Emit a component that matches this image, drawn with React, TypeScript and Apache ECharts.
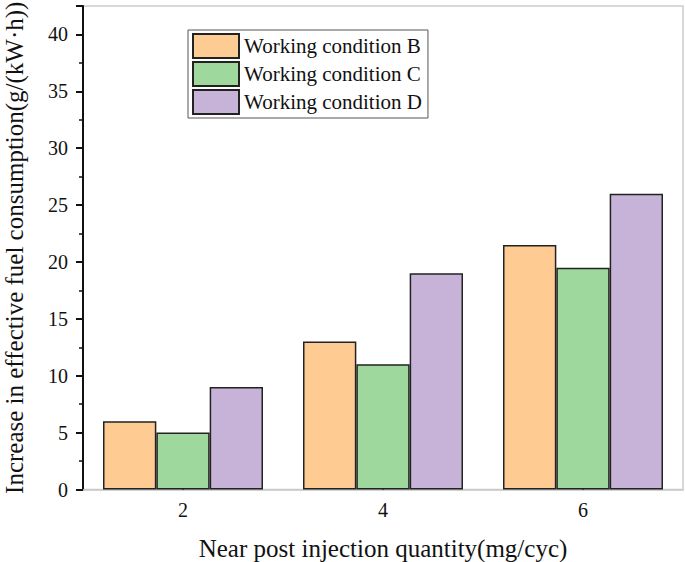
import React, { useEffect, useRef } from "react";
import * as echarts from "echarts";

const categories = ["2", "4", "6"];
const seriesNames = ["Working condition B", "Working condition C", "Working condition D"];
const valuesB = [6, 13, 21.5];
const valuesC = [5, 11, 19.5];
const valuesD = [9, 19, 26];
const colors = ["#FECC92", "#9FD89D", "#C6B3D7"];

export default function App() {
  const ref = useRef<HTMLDivElement>(null);
  useEffect(() => {
    if (!ref.current) return;
    const chart = echarts.init(ref.current, undefined, { renderer: "svg" });
    const font = "Liberation Serif";
    const data = [valuesB, valuesC, valuesD];
    chart.setOption({
      animation: false,
      textStyle: { fontFamily: font },
      grid: {
        left: 83,
        top: 6,
        width: 600,
        height: 483.5,
        show: true,
        borderColor: "#cccccc",
        borderWidth: 1.5,
        backgroundColor: "transparent",
        outerBoundsMode: "none",
        containLabel: false,
      },
      legend: {
        orient: "vertical",
        left: 188,
        top: 30,
        icon: "rect",
        itemWidth: 46,
        itemHeight: 24,
        itemGap: 2,
        padding: [3, 6, 3, 4],
        borderColor: "#555",
        borderWidth: 1,
        backgroundColor: "#fff",
        textStyle: { fontFamily: font, fontSize: 21, color: "#111" },
        data: seriesNames,
      },
      xAxis: {
        type: "category",
        data: categories,
        name: "Near post injection quantity(mg/cyc)",
        nameLocation: "middle",
        nameGap: 46,
        nameTextStyle: { fontFamily: font, fontSize: 25, color: "#111" },
        axisLine: { show: true, lineStyle: { color: "#c8c8c8", width: 1.5 } },
        axisTick: { show: true, inside: true, alignWithLabel: true, length: 8, lineStyle: { color: "#111", width: 2 } },
        axisLabel: { fontFamily: font, fontSize: 20, color: "#111", margin: 10 },
        splitLine: { show: false },
      },
      yAxis: {
        type: "value",
        min: 0,
        max: 42.5,
        interval: 5,
        name: "Increase in effective fuel consumption(g/(kW·h))",
        nameLocation: "middle",
        nameGap: 56,
        nameTextStyle: { fontFamily: font, fontSize: 25, color: "#111" },
        axisLine: { show: true, lineStyle: { color: "#111", width: 2 } },
        axisTick: { show: true, inside: false, length: 7, lineStyle: { color: "#111", width: 2 } },
        minorTick: { show: true, splitNumber: 2, length: 4, lineStyle: { color: "#111", width: 1.5 } },
        axisLabel: {
          fontFamily: font,
          fontSize: 20,
          color: "#111",
          margin: 15,
          formatter: (v: number) => (v % 5 === 0 && v <= 40 ? String(v) : ""),
        },
        splitLine: { show: false },
      },
      series: seriesNames.map((name, i) => ({
        name,
        type: "bar",
        data: data[i],
        barGap: "0%",
        barCategoryGap: "20%",
        itemStyle: { color: colors[i], borderColor: "#222", borderWidth: 1.5 },
      })),
    });
    return () => chart.dispose();
  }, []);
  return <div ref={ref} style={{ width: 685, height: 562, position: "absolute", left: 0, top: 0 }} />;
}
